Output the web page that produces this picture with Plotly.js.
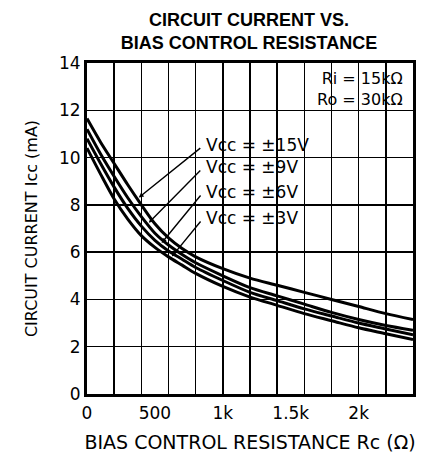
<!DOCTYPE html>
<html>
<head>
<meta charset="utf-8">
<script src="https://cdn.plot.ly/plotly-3.0.1.min.js"></script>
<style>
  html, body { margin: 0; padding: 0; background: white; }
  #chart { width: 422px; height: 457px; }
</style>
</head>
<body>
<div id="chart"></div>
<script>
// Icc vs Rc, one curve per supply voltage
const RC = [0, 100, 200, 300, 400, 500, 600, 700, 800, 1000, 1200, 1400, 1600, 1800, 2000, 2200, 2400];

const ICC_15V = [11.65, 10.65, 9.75, 8.85, 8.0, 7.2, 6.6, 6.15, 5.8, 5.3, 4.9, 4.6, 4.3, 4.0, 3.7, 3.4, 3.15];
const ICC_9V  = [11.2, 10.15, 9.2, 8.3, 7.5, 6.8, 6.3, 5.9, 5.55, 5.0, 4.5, 4.15, 3.8, 3.45, 3.15, 2.9, 2.7];
const ICC_6V  = [10.8, 9.75, 8.75, 7.85, 7.1, 6.5, 6.05, 5.7, 5.35, 4.8, 4.3, 3.95, 3.6, 3.3, 3.0, 2.75, 2.5];
const ICC_3V  = [10.4, 9.3, 8.25, 7.4, 6.7, 6.2, 5.8, 5.45, 5.1, 4.55, 4.1, 3.75, 3.4, 3.1, 2.8, 2.55, 2.3];

const SERIES = [ICC_15V, ICC_9V, ICC_6V, ICC_3V];
const SERIES_LABEL = ["Vcc = ±15V", "Vcc = ±9V", "Vcc = ±6V", "Vcc = ±3V"];
// where each leader line touches its curve (Ω)
const LEADER_RC = [370, 445, 540, 615];

const X_TICKS = [0, 500, 1000, 1500, 2000];
const X_TICK_TEXT = ["0", "500", "1k", "1.5k", "2k"];

const FONT = "DejaVu Sans, Liberation Sans, Arial, sans-serif";

// linear lookup on a series, just to land the leader arrows on the curves
function icAt(series, r) {
  for (let i = 1; i < RC.length; i++) {
    if (r <= RC[i]) {
      const t = (r - RC[i - 1]) / (RC[i] - RC[i - 1]);
      return series[i - 1] + t * (series[i] - series[i - 1]);
    }
  }
  return series[series.length - 1];
}

const traces = SERIES.map((ys, i) => ({
  x: RC, y: ys, name: SERIES_LABEL[i],
  type: "scatter", mode: "lines",
  line: { color: "#000", width: 3, shape: "spline", smoothing: 0.8 },
  hoverinfo: "skip", showlegend: false,
}));
// carrier for the labelled bottom axis
traces.push({ x: X_TICKS, y: X_TICKS.map(() => null), xaxis: "x2", yaxis: "y",
  mode: "lines", showlegend: false, hoverinfo: "skip" });

const LABEL_Y = [10.53, 9.6, 8.54, 7.44];
const annotations = [];
SERIES.forEach((ys, i) => {
  annotations.push({
    x: 862, y: LABEL_Y[i], xref: "x", yref: "y",
    text: SERIES_LABEL[i], showarrow: false,
    xanchor: "left", yanchor: "middle",
    font: { family: FONT, size: 17, color: "#000" },
  });
  annotations.push({
    x: LEADER_RC[i], y: icAt(ys, LEADER_RC[i]), xref: "x", yref: "y",
    ax: 845, ay: LABEL_Y[i] - 0.08, axref: "x", ayref: "y",
    text: "", showarrow: true, arrowhead: 2, arrowsize: 0.7, arrowwidth: 1.4,
    arrowcolor: "#000", standoff: 2,
  });
});
annotations.push({
  x: 0.975, y: 12.92, xref: "paper", yref: "y", text: "Ri = 15kΩ<br>Ro = 30kΩ",
  showarrow: false, xanchor: "right", yanchor: "middle", align: "right",
  font: { family: FONT, size: 16, color: "#000" },
});

const layout = {
  width: 422, height: 457,
  margin: { l: 87, r: 9, t: 63, b: 63 },
  paper_bgcolor: "white", plot_bgcolor: "white",
  font: { family: FONT, color: "#000", size: 16 },
  title: {
    text: "CIRCUIT CURRENT VS.<br>BIAS CONTROL RESISTANCE",
    font: { family: "Liberation Sans, Arial, sans-serif", size: 18, weight: "bold", color: "#000" },
    x: 0.59, xanchor: "center", y: 0.943, yanchor: "middle", yref: "container",
  },
  xaxis: {
    range: [0, 2400], tick0: 0, dtick: 200,
    showticklabels: false, ticks: "",
    showgrid: true, gridcolor: "#000", gridwidth: 1.5,
    showline: true, linecolor: "#000", linewidth: 3, mirror: true,
    zeroline: false, fixedrange: true,
  },
  xaxis2: {
    overlaying: "x", anchor: "y", side: "bottom",
    range: [0, 2400], tickmode: "array", tickvals: X_TICKS, ticktext: X_TICK_TEXT,
    showgrid: false, showline: false, zeroline: false, ticks: "",
    ticklabelstandoff: 7,
    tickfont: { family: FONT, size: 17, color: "#000" },
    title: { text: "BIAS CONTROL RESISTANCE Rc (Ω)", standoff: 13,
             font: { family: FONT, size: 19, color: "#000" } },
  },
  yaxis: {
    range: [0, 14], dtick: 2,
    showgrid: true, gridcolor: "#000", gridwidth: 1.5,
    showline: true, linecolor: "#000", linewidth: 3, mirror: true,
    zeroline: false, ticks: "",
    tickfont: { family: FONT, size: 17, color: "#000" },
    title: { text: "CIRCUIT CURRENT Icc (mA)", standoff: 18,
             font: { family: FONT, size: 16, color: "#000" } },
  },
  annotations,
};

Plotly.newPlot("chart", traces, layout, { displayModeBar: false, staticPlot: true });
</script>
</body>
</html>
